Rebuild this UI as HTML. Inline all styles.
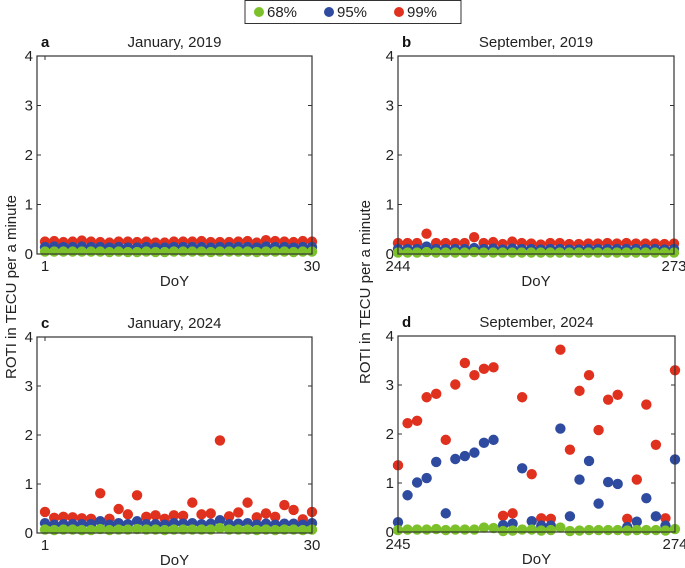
<!DOCTYPE html>
<html><head><meta charset="utf-8"><style>
html,body{margin:0;padding:0;background:#fff;}
svg{display:block;font-family:"Liberation Sans",Arial,sans-serif;}
</style></head><body>
<svg id="chart" width="685" height="568" viewBox="0 0 685 568">
<g>
<rect x="245" y="0.5" width="216" height="23" fill="#fff" stroke="#333" stroke-width="1"/>
<circle cx="259" cy="12" r="5" fill="#7dc12a"/>
<text x="267" y="17" font-size="15" fill="#222">68%</text>
<circle cx="329" cy="12" r="5" fill="#2e4ba0"/>
<text x="337" y="17" font-size="15" fill="#222">95%</text>
<circle cx="399" cy="12" r="5" fill="#e0301e"/>
<text x="407" y="17" font-size="15" fill="#222">99%</text>
</g>
<text transform="translate(16,287) rotate(-90)" text-anchor="middle" font-size="15" fill="#222">ROTI in TECU per a minute</text>
<text transform="translate(370,292) rotate(-90)" text-anchor="middle" font-size="15" fill="#222">ROTI in TECU per a minute</text>
</svg>
<script>
const yTicks=[0,1,2,3,4];
const aDays=[1,30], aRed=[0.25,0.26,0.24,0.25,0.27,0.25,0.24,0.23,0.25,0.25,0.24,0.25,0.23,0.23,0.25,0.25,0.25,0.26,0.24,0.24,0.24,0.25,0.26,0.23,0.28,0.26,0.25,0.24,0.26,0.25];
const aBlue=[0.14,0.15,0.14,0.14,0.15,0.14,0.14,0.13,0.14,0.13,0.13,0.14,0.13,0.13,0.14,0.14,0.14,0.14,0.13,0.14,0.14,0.14,0.14,0.13,0.15,0.14,0.14,0.13,0.14,0.14];
const aGreen=[0.05,0.05,0.05,0.05,0.05,0.05,0.05,0.04,0.05,0.04,0.04,0.05,0.04,0.04,0.05,0.05,0.05,0.05,0.04,0.05,0.05,0.05,0.05,0.04,0.05,0.05,0.05,0.04,0.05,0.05];
const bDays=[244,273], bRed=[0.22,0.22,0.22,0.41,0.22,0.22,0.22,0.22,0.34,0.22,0.24,0.2,0.25,0.22,0.21,0.19,0.22,0.22,0.2,0.2,0.21,0.21,0.22,0.21,0.22,0.21,0.21,0.21,0.2,0.21];
const bBlue=[0.1,0.1,0.1,0.15,0.1,0.1,0.1,0.1,0.12,0.1,0.11,0.09,0.11,0.1,0.1,0.09,0.1,0.1,0.09,0.09,0.1,0.1,0.1,0.1,0.1,0.1,0.1,0.1,0.09,0.1];
const bGreen=[0.03,0.03,0.03,0.04,0.03,0.03,0.03,0.03,0.04,0.03,0.03,0.03,0.03,0.03,0.03,0.03,0.03,0.03,0.03,0.03,0.03,0.03,0.03,0.03,0.03,0.03,0.03,0.03,0.03,0.03];
const cDays=[1,30], cRed=[0.43,0.31,0.33,0.32,0.3,0.29,0.81,0.29,0.49,0.38,0.77,0.33,0.36,0.29,0.36,0.35,0.62,0.38,0.4,1.89,0.34,0.42,0.62,0.32,0.4,0.33,0.57,0.47,0.28,0.43];
const cBlue=[0.2,0.17,0.18,0.18,0.18,0.18,0.24,0.17,0.2,0.18,0.24,0.18,0.18,0.17,0.2,0.19,0.2,0.18,0.19,0.26,0.18,0.19,0.2,0.17,0.19,0.17,0.19,0.19,0.17,0.2];
const cGreen=[0.07,0.06,0.07,0.07,0.06,0.06,0.08,0.06,0.07,0.07,0.08,0.07,0.07,0.06,0.07,0.07,0.07,0.07,0.07,0.1,0.07,0.07,0.07,0.06,0.07,0.06,0.07,0.07,0.06,0.07];
const dDays=[245,274], dRed=[1.36,2.22,2.27,2.75,2.82,1.88,3.01,3.45,3.2,3.33,3.36,0.33,0.38,2.75,1.18,0.28,0.27,3.72,1.68,2.88,3.2,2.08,2.7,2.8,0.27,1.07,2.6,1.78,0.28,3.3];
const dBlue=[0.2,0.75,1.01,1.1,1.43,0.38,1.49,1.55,1.62,1.82,1.88,0.14,0.17,1.3,0.22,0.13,0.13,2.11,0.32,1.07,1.45,0.58,1.02,0.98,0.1,0.21,0.69,0.32,0.13,1.48];
const dGreen=[0.04,0.05,0.05,0.05,0.06,0.04,0.05,0.05,0.05,0.09,0.08,0.02,0.03,0.05,0.05,0.03,0.04,0.09,0.02,0.03,0.04,0.04,0.04,0.04,0.03,0.04,0.04,0.04,0.03,0.06];
const titles=["January, 2019","September, 2019","January, 2024","September, 2024"];
const letters=["a","b","c","d"];
const NS="http://www.w3.org/2000/svg";
const svg=document.getElementById('chart');
function mk(tag,attrs,parent){const e=document.createElementNS(NS,tag);for(const k in attrs)e.setAttribute(k,attrs[k]);parent.appendChild(e);return e;}
const panels=[
 {L:37,R:312,T:56,B:254,x0:45,days:aDays,r:aRed,b:aBlue,g:aGreen},
 {L:398,R:674,T:56,B:254,x0:398,days:bDays,r:bRed,b:bBlue,g:bGreen},
 {L:37,R:312,T:337,B:533,x0:45,days:cDays,r:cRed,b:cBlue,g:cGreen},
 {L:398,R:675,T:336,B:532,x0:398,days:dDays,r:dRed,b:dBlue,g:dGreen}];
panels.forEach((p,i)=>{
 const g=mk('g',{},svg);
 
 
 const d0=p.days[0],d1=p.days[1];
 const xs=d=>p.x0+(d-d0)*(p.R-p.x0)/(d1-d0);
 const ys=v=>p.B-v*(p.B-p.T)/4;
 yTicks.forEach(t=>{
  const y=ys(t);
  mk('line',{x1:p.L,x2:p.L+4,y1:y,y2:y,stroke:'#333'},g);
  mk('line',{x1:p.R-4,x2:p.R,y1:y,y2:y,stroke:'#333'},g);
  const tx=mk('text',{x:p.L-4,y:y+5,'text-anchor':'end','font-size':'15',fill:'#222'},g);
  
  
  tx.textContent=t;
 });
 p.days.forEach(d=>{
  const x=xs(d);
  mk('line',{x1:x,x2:x,y1:p.B,y2:p.B-4,stroke:'#333'},g);
  mk('line',{x1:x,x2:x,y1:p.T,y2:p.T+4,stroke:'#333'},g);
  const tx=mk('text',{x:x,y:p.B+17,'text-anchor':'middle','font-size':'15',fill:'#222'},g);
  
  
  tx.textContent=d;
 });
 const xl=mk('text',{x:(p.L+p.R)/2,y:p.B+32,'text-anchor':'middle','font-size':'15',fill:'#222'},g);
 
 
 xl.textContent='DoY';
 const tl=mk('text',{x:(p.L+p.R)/2,y:p.T-9,'text-anchor':'middle','font-size':'15',fill:'#222'},g);
 
 
 tl.textContent=titles[i];
 const lt=mk('text',{x:p.L+4,y:p.T-9,'font-size':'15','font-weight':'bold',fill:'#111'},g);
 
 
 lt.textContent=letters[i];
 [[p.r,'#e0301e','p99'],[p.b,'#2e4ba0','p95'],[p.g,'#7dc12a','p68']].forEach(([arr,col,nm])=>{
  arr.forEach((v,k)=>{
   const c=mk('circle',{cx:xs(d0+k),cy:ys(v),r:5.2,fill:col},g);
   
   
  });
 });
 const box=mk('rect',{x:p.L,y:p.T,width:p.R-p.L,height:p.B-p.T,fill:'none',stroke:'#333','stroke-width':1.2},g);
 
 
});
</script>
</body></html>
